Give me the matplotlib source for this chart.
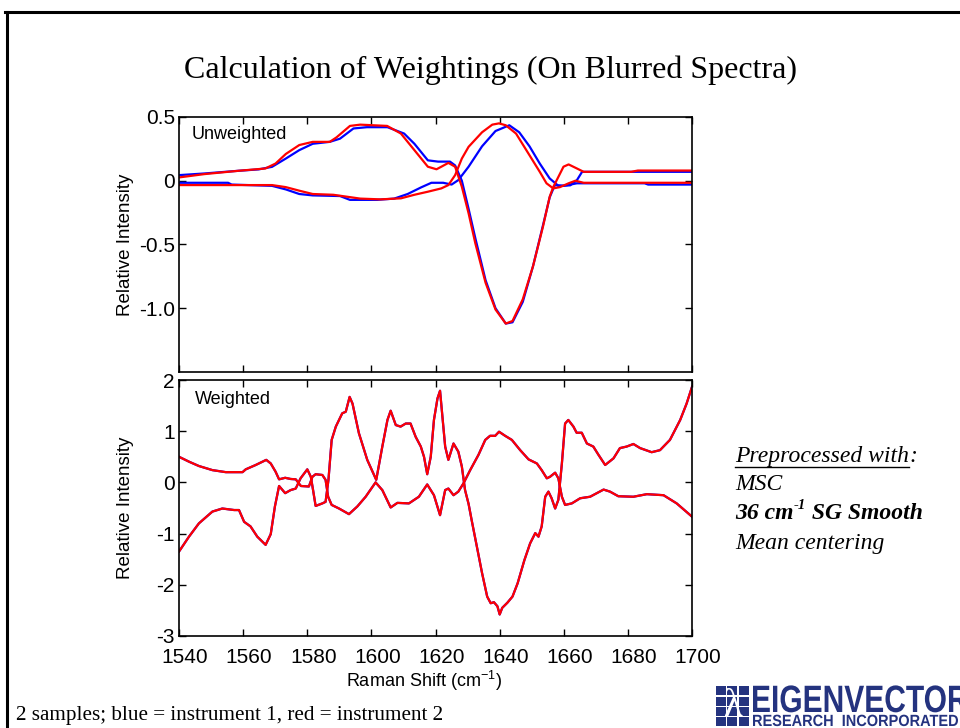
import numpy as np
import matplotlib
matplotlib.use("Agg")
import matplotlib.pyplot as plt
from matplotlib.lines import Line2D
from matplotlib.patches import Rectangle, PathPatch
from matplotlib.textpath import TextPath
from matplotlib.font_manager import FontProperties
from matplotlib.transforms import Affine2D, ScaledTranslation

# ----------------------------------------------------
# settings
# ----------------------------------------------------
plt.rcParams['font.family'] = ['Liberation Sans', 'DejaVu Sans']
plt.rcParams['axes.unicode_minus'] = False
plt.rcParams['mathtext.fontset'] = 'custom'
plt.rcParams['mathtext.rm'] = 'Liberation Sans'

W, H = 960, 728
BLUE = (0, 0, 1)
RED = (1, 0, 0)
NAVY = '#24337f'
SERIF = ['Liberation Serif', 'DejaVu Serif']

TITLE = 'Calculation of Weightings (On Blurred Spectra)'
CAPTION = '2 samples; blue = instrument 1, red = instrument 2'
XTICKS = [1540, 1560, 1580, 1600, 1620, 1640, 1660, 1680, 1700]
YTICKS_TOP = [-1.0, -0.5, 0, 0.5]
YTICKLABELS_TOP = ['-1.0', '-0.5', '0', '0.5']
YTICKS_BOTTOM = [-3, -2, -1, 0, 1, 2]

# ----------------------------------------------------
# data : unweighted (top)
# ----------------------------------------------------
# sample 1, instrument 1 (blue)
wn_s1_blue = [1540, 1547.9, 1558.5, 1564.8, 1569.0, 1573.3, 1577.5, 1581.7, 1587.0, 1590.2,
              1594.4, 1598.6, 1605.0, 1610.2, 1613.4, 1617.6, 1620.8, 1624.5, 1626.1, 1628.2,
              1630.3, 1632.4, 1635.6, 1638.7, 1641.9, 1644.0, 1647.2, 1650.4, 1653.5, 1655.6,
              1657.2, 1659.9, 1664.1, 1685.2, 1686.3, 1700]
int_s1_blue = [0.044, 0.057, 0.078, 0.089, 0.109, 0.174, 0.24, 0.29, 0.305, 0.33,
               0.41, 0.42, 0.42, 0.37, 0.29, 0.16, 0.15, 0.15, 0.12, 0.0,
               -0.22, -0.45, -0.78, -1.0, -1.12, -1.11, -0.95, -0.67, -0.35, -0.13,
               -0.034, -0.04, -0.02, -0.02, -0.03, -0.03]

# sample 1, instrument 2 (red)
wn_s1_red = [1540, 1547.9, 1558.5, 1566.9, 1570.1, 1573.3, 1577.5, 1581.7, 1587.0, 1589.1,
             1593.3, 1596.5, 1604.9, 1609.2, 1613.4, 1617.6, 1620.3, 1621.8, 1624.0, 1626.1,
             1628.2, 1630.3, 1632.4, 1635.6, 1638.7, 1641.9, 1644.0, 1647.2, 1650.4, 1653.5,
             1655.6, 1656.7, 1658.3, 1659.9, 1661.5, 1664.1, 1666.2, 1681.0, 1683.1, 1700]
int_s1_red = [0.026, 0.052, 0.078, 0.096, 0.135, 0.21, 0.28, 0.305, 0.305, 0.34,
              0.43, 0.44, 0.43, 0.37, 0.24, 0.11, 0.09, 0.11, 0.14, 0.11,
              -0.047, -0.255, -0.49, -0.80, -1.01, -1.12, -1.10, -0.93, -0.67, -0.36,
              -0.125, -0.05, 0.03, 0.11, 0.128, 0.096, 0.07, 0.07, 0.08, 0.08]

# sample 2, instrument 1 (blue)
wn_s2_blue = [1540, 1555.3, 1556.4, 1569.0, 1573.3, 1577.5, 1581.7, 1590.2, 1593.3, 1601.8,
              1607.1, 1611.3, 1615.5, 1618.7, 1622.4, 1625.0, 1627.1, 1630.3, 1634.5, 1638.7,
              1643.0, 1646.1, 1649.3, 1652.5, 1655.6, 1658.3, 1662.0, 1664.1, 1665.7, 1700]
int_s2_blue = [-0.016, -0.016, -0.03, -0.04, -0.068, -0.104, -0.115, -0.12, -0.15, -0.15,
               -0.14, -0.104, -0.052, -0.016, -0.016, -0.03, 0.005, 0.11, 0.27, 0.39,
               0.435, 0.38, 0.27, 0.135, 0.018, -0.04, -0.036, 0.005, 0.07, 0.07]

# sample 2, instrument 2 (red)
wn_s2_red = [1540, 1569.0, 1573.3, 1577.5, 1581.7, 1588.1, 1592.3, 1596.5, 1602.8, 1609.2,
             1613.4, 1617.6, 1621.8, 1624.0, 1626.1, 1628.2, 1630.3, 1634.5, 1637.7, 1639.8,
             1641.9, 1645.1, 1649.3, 1652.5, 1654.6, 1656.7, 1658.8, 1661.5, 1663.6, 1666.2, 1700]
int_s2_red = [-0.034, -0.034, -0.05, -0.078, -0.104, -0.11, -0.125, -0.14, -0.146, -0.138,
              -0.11, -0.086, -0.06, -0.034, 0.044, 0.174, 0.266, 0.38, 0.44, 0.45,
              0.435, 0.37, 0.2, 0.07, -0.02, -0.06, -0.05, -0.02, 0.0, -0.016, -0.016]

# ----------------------------------------------------
# data : weighted (bottom)  blue and red lie on top of each other
# ----------------------------------------------------
wn_w1 = [1540, 1543.1, 1546.2, 1550.4, 1554.6, 1559.8, 1560.8, 1563.9, 1567.2, 1568.6,
         1570.1, 1571.2, 1573.1, 1574.8, 1576.4, 1578.0, 1580.5, 1581.6, 1582.6, 1584.7,
         1585.7, 1586.5, 1587.6, 1589.9, 1593.0, 1595.6, 1598.2, 1601.3, 1603.4, 1606.0,
         1608.1, 1611.7, 1614.8, 1617.4, 1619.5, 1621.4, 1623.0, 1624.0, 1625.6, 1627.1,
         1628.7, 1630.8, 1633.4, 1635.5, 1637.0, 1638.6, 1639.8, 1641.7, 1643.8, 1646.4,
         1649.0, 1651.6, 1653.1, 1654.7, 1655.7, 1657.3, 1658.3, 1659.4, 1660.4, 1662.5,
         1665.1, 1668.2, 1672.4, 1674.4, 1677.0, 1681.7, 1685.9, 1691.1, 1695.2, 1700]
int_w1 = [0.50, 0.405, 0.32, 0.24, 0.20, 0.20, 0.255, 0.34, 0.44, 0.37,
          0.21, 0.06, 0.09, 0.067, 0.06, -0.07, -0.08, 0.11, 0.16, 0.145,
          0.05, -0.28, -0.44, -0.51, -0.62, -0.47, -0.28, 0.0, -0.15, -0.49,
          -0.40, -0.41, -0.28, -0.04, -0.25, -0.64, -0.15, -0.12, -0.25, -0.18,
          -0.02, 0.24, 0.54, 0.83, 0.91, 0.91, 0.99, 0.91, 0.83, 0.63,
          0.45, 0.37, 0.24, 0.08, 0.11, 0.19, 0.08, -0.28, -0.44, -0.41,
          -0.31, -0.28, -0.14, -0.18, -0.27, -0.28, -0.23, -0.25, -0.41, -0.67]

wn_w2 = [1540, 1543.1, 1546.2, 1550.4, 1553.5, 1557.2, 1558.7, 1560.3, 1562.3, 1564.4,
         1567.0, 1568.6, 1569.9, 1571.2, 1573.1, 1574.8, 1576.4, 1577.9, 1580.0, 1581.1,
         1581.8, 1582.6, 1584.7, 1585.7, 1586.6, 1587.6, 1588.9, 1590.9, 1592.0, 1593.2,
         1594.1, 1596.1, 1598.7, 1601.5, 1603.4, 1605.0, 1606.0, 1607.6, 1609.1, 1610.7,
         1612.2, 1613.8, 1615.4, 1616.4, 1617.4, 1618.5, 1619.5, 1620.6, 1621.4, 1623.0,
         1624.0, 1625.6, 1627.1, 1628.2, 1629.2, 1630.3, 1631.3, 1632.4, 1633.5, 1634.5,
         1636.1, 1637.2, 1638.2, 1639.3, 1640.0, 1640.8, 1642.4, 1644.0, 1645.6, 1647.7,
         1649.5, 1651.1, 1652.1, 1653.1, 1654.2, 1655.2, 1656.2, 1657.3, 1658.3, 1659.4,
         1660.4, 1661.4, 1663.0, 1664.0, 1665.6, 1667.2, 1669.2, 1670.8, 1672.9, 1675.5,
         1677.5, 1679.6, 1681.7, 1683.8, 1687.4, 1690.0, 1693.1, 1696.3, 1698.3, 1700]
int_w2 = [-1.35, -1.06, -0.80, -0.57, -0.51, -0.54, -0.54, -0.77, -0.86, -1.06,
          -1.22, -1.01, -0.47, -0.07, -0.21, -0.15, -0.12, 0.08, 0.255, 0.11,
          -0.15, -0.46, -0.41, -0.38, 0.05, 0.83, 1.09, 1.35, 1.38, 1.67,
          1.54, 0.96, 0.44, 0.05, 0.70, 1.22, 1.40, 1.12, 1.09, 1.15,
          1.15, 0.89, 0.70, 0.50, 0.16, 0.50, 1.22, 1.64, 1.79, 0.70,
          0.44, 0.76, 0.60, 0.31, -0.15, -0.42, -0.75, -1.10, -1.45, -1.77,
          -2.23, -2.36, -2.34, -2.42, -2.58, -2.45, -2.35, -2.23, -1.97, -1.52,
          -1.19, -0.99, -1.06, -0.86, -0.28, -0.18, -0.31, -0.51, -0.34, 0.37,
          1.15, 1.22, 1.09, 0.97, 0.97, 0.76, 0.70, 0.54, 0.34, 0.47,
          0.67, 0.70, 0.75, 0.67, 0.59, 0.63, 0.83, 1.22, 1.54, 1.87]


def style_axes(ax, yticks, yticklabels):
    """matlab風の箱型の軸"""
    ax.set_xlim(1540, 1700)
    ax.set_xticks(XTICKS)
    ax.set_yticks(yticks)
    ax.set_yticklabels(yticklabels)
    ax.tick_params(direction='in', top=True, right=True, length=5, width=1.0,
                   labelsize=15)
    ax.tick_params(axis='x', pad=9)
    ax.tick_params(axis='y', pad=3)
    for sp in ax.spines.values():
        sp.set_linewidth(1.2)


def squeezed_text(text, x0, y_base, cap_px, width_px, color):
    """幅と高さを指定して文字を描く (ロゴ用の細い書体の代わり)"""
    fp = FontProperties(family='Liberation Sans', weight='bold')
    tp = TextPath((0, 0), text, size=100, prop=fp)
    bb = tp.get_extents()
    sx = width_px / bb.width
    sy = cap_px / bb.height
    tr = Affine2D().translate(-bb.x0, 0).scale(sx, sy).translate(x0, H - y_base)
    fig.add_artist(PathPatch(tp, transform=tr, color=color, lw=0))


fig = plt.figure(figsize=(9.6, 7.28), dpi=100)
renderer = fig.canvas.get_renderer()

# スライドの枠線 (右と下ははみ出し)
fig.add_artist(Line2D([5 / W, 1.0], [1 - 12 / H, 1 - 12 / H], transform=fig.transFigure,
                      color='black', lw=2.2))
fig.add_artist(Line2D([7 / W, 7 / W], [0, 1 - 12 / H], transform=fig.transFigure,
                      color='black', lw=2.2))

fig.text(0.511, 0.904, TITLE, ha='center', va='center', fontsize=23, family=SERIF)

# ---- top: unweighted
ax1 = fig.add_axes([0.1865, 0.489, 0.5344, 0.3503])
ax1.plot(wn_s1_blue, int_s1_blue, color=BLUE, lw=1.6)
ax1.plot(wn_s2_blue, int_s2_blue, color=BLUE, lw=1.6)
ax1.plot(wn_s1_red, int_s1_red, color=RED, lw=1.6)
ax1.plot(wn_s2_red, int_s2_red, color=RED, lw=1.6)
ax1.set_ylim(-1.5, 0.5)
style_axes(ax1, YTICKS_TOP, YTICKLABELS_TOP)
ax1.set_xticklabels([])
ax1.set_ylabel('Relative Intensity', fontsize=13.5)
ax1.yaxis.set_label_coords(-0.087, 0.5)
ax1.text(0.025, 0.93, 'Unweighted', transform=ax1.transAxes, fontsize=13,
         ha='left', va='center')

# ---- bottom: weighted
ax2 = fig.add_axes([0.1865, 0.1264, 0.5344, 0.3516])
ax2.plot(wn_w1, int_w1, color=BLUE, lw=1.6)
ax2.plot(wn_w2, int_w2, color=BLUE, lw=1.6)
ax2.plot(wn_w1, int_w1, color=RED, lw=1.6)
ax2.plot(wn_w2, int_w2, color=RED, lw=1.6)
ax2.set_ylim(-3, 2)
style_axes(ax2, YTICKS_BOTTOM, [str(v) for v in YTICKS_BOTTOM])
ax2.set_ylabel('Relative Intensity', fontsize=13.5)
ax2.yaxis.set_label_coords(-0.087, 0.5)
ax2.set_xlabel(r'Raman Shift (cm$^{\mathrm{-1}}$)', fontsize=13)
ax2.xaxis.set_label_coords((424 - 179) / 513, -0.13)
# 元の図では目盛り数字が少し右にずれている
shift = ScaledTranslation(6 / 100, 0, fig.dpi_scale_trans)
for lab in ax2.get_xticklabels():
    lab.set_transform(lab.get_transform() + shift)
ax2.text(0.03, 0.925, 'Weighted', transform=ax2.transAxes, fontsize=13,
         ha='left', va='center')

# ---- 前処理の注記
nx = 735 / W
t = fig.text(nx, 0.3736, 'Preprocessed with', fontsize=17, style='italic', family=SERIF,
             va='center', ha='left')
bb = t.get_window_extent(renderer)
fig.text(bb.x1 / W, 0.3736, ':', fontsize=17, style='italic', family=SERIF,
         va='center', ha='left')
fig.add_artist(Line2D([nx, bb.x1 / W], [0.3585, 0.3585], transform=fig.transFigure,
                      color='black', lw=1.0))
fig.text(nx, 0.3338, 'MSC', fontsize=17, style='italic', family=SERIF, va='center')
t = fig.text(nx, 0.294, '36 cm', fontsize=17, style='italic', weight='bold',
             family=SERIF, va='center')
bb = t.get_window_extent(renderer)
t = fig.text(bb.x1 / W, 0.294 + 0.011, '-1', fontsize=10.5, style='italic', weight='bold',
             family=SERIF, va='center')
bb = t.get_window_extent(renderer)
fig.text(bb.x1 / W, 0.294, ' SG Smooth', fontsize=17, style='italic', weight='bold',
         family=SERIF, va='center')
fig.text(nx, 0.254, 'Mean centering', fontsize=17, style='italic', family=SERIF,
         va='center')

fig.text(16 / W, 0.0165, CAPTION, fontsize=15.2, family=SERIF, va='center', ha='left')

# ---- ロゴ
icon_x0, icon_y0, cell = 716, 685, 10.3
for i in range(3):
    for j in range(4):
        fig.add_artist(Rectangle(((icon_x0 + i * cell * 1.1) / W, 1 - (icon_y0 + (j + 1) * cell) / H),
                                 (cell * 1.1 - 1.2) / W, (cell - 1.2) / H,
                                 transform=fig.transFigure, color=NAVY, lw=0))
fig.text((icon_x0 + 1.5 * cell * 1.1) / W, 1 - (icon_y0 + 2.1 * cell) / H, 'λ', color='white',
         fontsize=28, family=SERIF, ha='center', va='center')
squeezed_text('EIGENVECTOR', 753, 712, 27, 215, NAVY)
squeezed_text('RESEARCH  INCORPORATED', 753, 726, 11.5, 205, NAVY)

fig.savefig('out.png', dpi=100)
